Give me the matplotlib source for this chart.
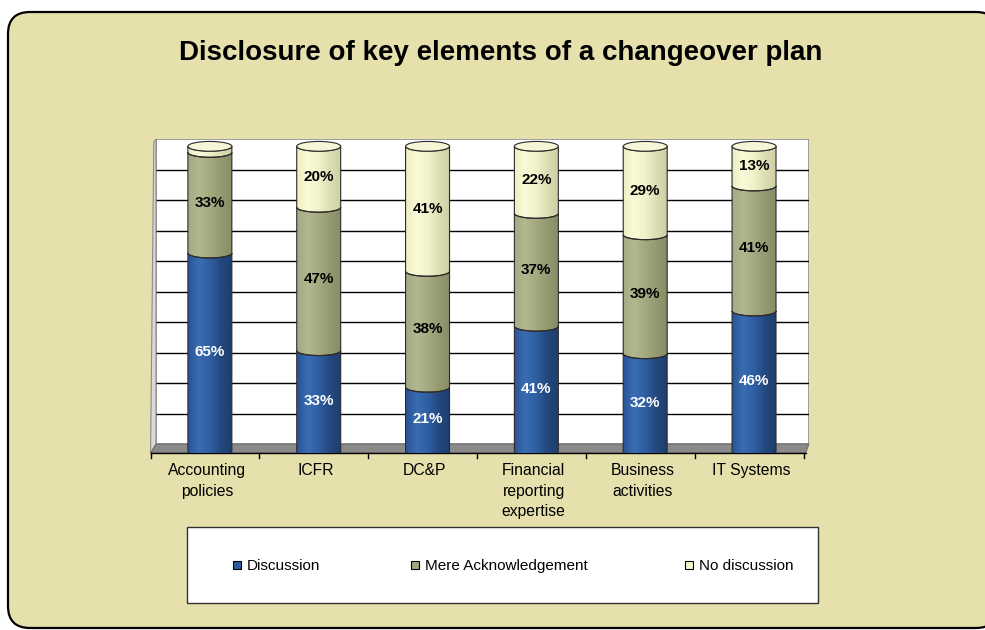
import numpy as np
import matplotlib
matplotlib.use("Agg")
import matplotlib.pyplot as plt
from matplotlib.patches import FancyBboxPatch, Rectangle, Ellipse, Polygon, PathPatch
from matplotlib.path import Path

plt.rcParams['font.family'] = ['Liberation Sans', 'DejaVu Sans']

# data
title = "Disclosure of key elements of a changeover plan"
categories = ["Accounting\npolicies", "ICFR", "DC&P", "Financial\nreporting\nexpertise",
              "Business\nactivities", "IT Systems"]
series_names = ["Discussion", "Mere Acknowledgement", "No discussion"]
discussion = [65, 33, 21, 41, 32, 46]
acknowledgement = [33, 47, 38, 37, 39, 41]
no_discussion = [2, 20, 41, 22, 29, 13]

# gradient anchors (left -> right) for each series, and label colour
shades = [
    ["#2a5596", "#3a6cb2", "#2f5fa2", "#24487e", "#1e3f70"],
    ["#a6aa84", "#b3b78f", "#a5a980", "#969a72", "#898d65"],
    ["#eeeec4", "#fafad8", "#f1f1cb", "#dedeb5", "#cfcfa6"],
]
cap_color = "#f6f6d6"
label_colors = ["white", "black", "black"]
flat_colors = ["#2e5c9e", "#a3a77e", "#f4f4cc"]

W, H = 985, 630
fig = plt.figure(figsize=(W / 100, H / 100), dpi=100)
fig.patch.set_facecolor("white")

# background axes in pixel coordinates
bg = fig.add_axes([0, 0, 1, 1])
bg.set_xlim(0, W)
bg.set_ylim(H, 0)
bg.axis("off")
bg.add_patch(FancyBboxPatch((8, 12), 990, 616, boxstyle="round,pad=0,rounding_size=22",
                            facecolor="#e6e0ac", edgecolor="black", linewidth=1.6))
bg.text(501, 60, title, ha="center", va="baseline", fontsize=20, fontweight="bold")

# legend box
bg.add_patch(Rectangle((187, 527), 631, 76, facecolor="white", edgecolor="#333333", linewidth=1.0))
leg_x = [233, 411, 685]
for i, name in enumerate(series_names):
    bg.add_patch(Rectangle((leg_x[i], 561), 8, 8, facecolor=flat_colors[i],
                           edgecolor="black", linewidth=0.8))
    bg.text(leg_x[i] + 14, 570, name, ha="left", va="baseline", fontsize=11)

# plot area: back wall 0% at y=444, 100% at y=139; floor to y=453
left, right, top, bottom = 156, 809, 139, 453
ax = fig.add_axes([left / W, 1 - bottom / H, (right - left) / W, (bottom - top) / H])
ax.set_xlim(0, 6)
ax.set_ylim(-2.95, 100)
ax.axis("off")

ax.add_patch(Rectangle((0, 0), 6, 100, facecolor="white", edgecolor="#8c8c8c", linewidth=1.2, zorder=0))
for g in range(10, 100, 10):
    ax.plot([0, 6], [g, g], color="black", linewidth=1.0, zorder=1)
# side wall and floor
ax.add_patch(Polygon([(0, 0), (0, 100), (-0.02, 99), (-0.05, -2.95)], closed=True,
                     facecolor="#d9d9d9", edgecolor="#8c8c8c", linewidth=0.8, clip_on=False, zorder=1))
ax.add_patch(Polygon([(0, 0), (6, 0), (5.97, -2.95), (-0.05, -2.95)], closed=True,
                     facecolor="#8a8a8a", edgecolor="#666666", linewidth=0.6, clip_on=False, zorder=1))
ax.plot([-0.05, 5.97], [-2.95, -2.95], color="black", linewidth=1.0, clip_on=False, zorder=2)
for t in range(7):
    xt = t - 0.05
    ax.plot([xt, xt], [-2.95, -4.6], color="black", linewidth=1.0, clip_on=False, zorder=2)

for i, cat in enumerate(categories):
    ax.text(i + 0.47, -6.3, cat, ha="center", va="top", fontsize=11.3, linespacing=1.45)


def gradient(anchors, n=64):
    rgb = np.array([matplotlib.colors.to_rgb(c) for c in anchors])
    pos = np.linspace(0, 1, len(anchors))
    xs = np.linspace(0, 1, n)
    return np.stack([np.interp(xs, pos, rgb[:, k]) for k in range(3)], axis=1)[None, :, :]


def front_path(xc, hw, y0, y1, b, n=40):
    th = np.linspace(np.pi, 2 * np.pi, n)
    lower = np.column_stack([xc + hw * np.cos(th), y0 + b * np.sin(th)])
    th2 = th[::-1]
    upper = np.column_stack([xc + hw * np.cos(th2), y1 + b * np.sin(th2)])
    verts = np.vstack([lower, upper, lower[:1]])
    codes = [Path.MOVETO] + [Path.LINETO] * (len(verts) - 2) + [Path.CLOSEPOLY]
    return Path(verts, codes)


series = [discussion, acknowledgement, no_discussion]
base = -2.4
hw = 0.202
b = 1.6
for i in range(len(categories)):
    xc = i + 0.495
    y0 = base
    for s, vals in enumerate(series):
        v = vals[i]
        y1 = y0 + v
        p = front_path(xc, hw, y0, y1, b)
        patch = PathPatch(p, facecolor="none", edgecolor="#2b2b2b", linewidth=0.8, zorder=4)
        ax.add_patch(patch)
        im = ax.imshow(gradient(shades[s]), extent=[xc - hw, xc + hw, y0 - b, y1],
                       aspect="auto", zorder=3, interpolation="bilinear")
        im.set_clip_path(patch)
        if v >= 5:
            ax.text(xc, (y0 + y1) / 2, f"{v}%", ha="center", va="center", fontsize=11,
                    fontweight="bold", color=label_colors[s], zorder=6)
        y0 = y1
    ax.add_patch(Ellipse((xc, y0), 2 * hw, 2 * b, facecolor=cap_color,
                         edgecolor="#2b2b2b", linewidth=0.8, zorder=5))

fig.savefig("out.png", dpi=100, facecolor=fig.get_facecolor())
